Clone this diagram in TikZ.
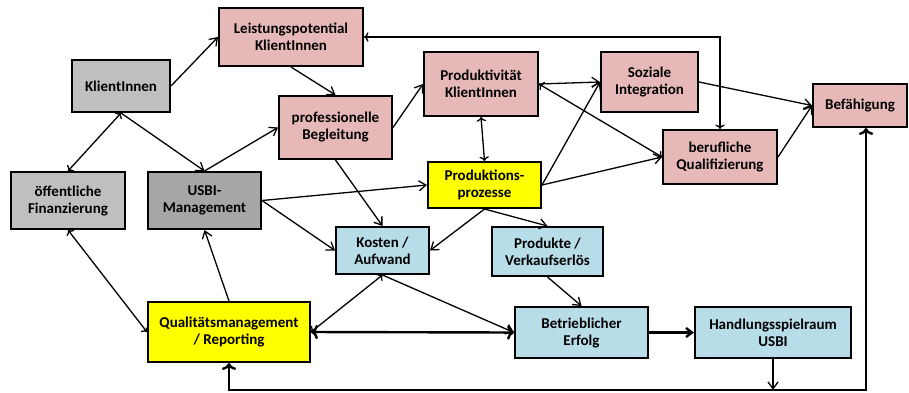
\documentclass[tikz,border=0pt]{standalone}
\usepackage{fontspec}
\setmainfont{Carlito}
\usetikzlibrary{arrows.meta}
\definecolor{rosa}{HTML}{E6B9B8}
\definecolor{grauhell}{HTML}{BFBFBF}
\definecolor{graudunkel}{HTML}{A6A6A6}
\definecolor{gelb}{HTML}{FFFF00}
\definecolor{blau}{HTML}{B7DDE8}

\begin{document}
\begin{tikzpicture} [x=1pt,y=-1pt,
  box/.style={draw,line width=2pt,align=center,inner sep=0pt,
    font=\bfseries\fontsize{15}{17}\selectfont},
  pfeil/.style={line width=1.3pt,-{Straight Barb[length=7pt,width=10pt]}},
  dick/.style={line width=2.4pt,-{Straight Barb[length=6pt,width=9pt]}}]
 \useasboundingbox (0,0) rectangle (909,392);
 \node[box,fill=rosa,minimum width=144pt,minimum height=58pt] (leist) at (291,37) {Leistungspotential\\KlientInnen};
 \node[box,fill=grauhell,minimum width=98pt,minimum height=52pt] (klient) at (121,86) {KlientInnen};
 \node[box,fill=rosa,minimum width=113pt,minimum height=63pt] (beglt) at (335.5,127.5) {professionelle\\Begleitung};
 \node[box,fill=rosa,minimum width=114pt,minimum height=64pt] (prodkt) at (481,84) {Produktivität\\KlientInnen};
 \node[box,fill=rosa,minimum width=97pt,minimum height=60pt] (sozial) at (649.5,82) {Soziale\\Integration};
 \node[box,fill=rosa,minimum width=94pt,minimum height=43pt] (befaeh) at (860,105.5) {Befähigung};
 \node[box,fill=rosa,minimum width=114pt,minimum height=54pt] (beruf) at (720,157) {berufliche\\Qualifizierung};
 \node[box,fill=gelb,minimum width=113pt,minimum height=46pt] (prozess) at (484.5,185) {Produktions-\\prozesse};
 \node[box,fill=grauhell,minimum width=114pt,minimum height=57pt] (oeff) at (68,200.5) {öffentliche\\Finanzierung};
 \node[box,fill=graudunkel,minimum width=113pt,minimum height=57pt] (usbi) at (204.5,200.5) {USBI-\\Management};
 \node[box,fill=blau,minimum width=93pt,minimum height=47pt] (kosten) at (382.5,250.5) {Kosten /\\Aufwand};
 \node[box,fill=blau,minimum width=111pt,minimum height=49pt] (produkte) at (547.5,251.5) {Produkte /\\Verkaufserlös};
 \node[box,fill=gelb,minimum width=162pt,minimum height=60pt] (qm) at (229,332) {Qualitätsmanagement\\/ Reporting};
 \node[box,fill=blau,minimum width=133pt,minimum height=51pt] (erfolg) at (581.5,332.5) {Betrieblicher\\Erfolg};
 \node[box,fill=blau,minimum width=156pt,minimum height=51pt] (handl) at (773,332.5) {Handlungsspielraum\\USBI};
 \coordinate (ecke) at (720,37);
 \coordinate (unten) at (773,390);
 \coordinate (links) at (229,390);
 \coordinate (rechts) at (866,390);

 \draw[pfeil] (klient.east) -- (leist.west);
 \draw[pfeil] (leist.south) -- (beglt.north);
 \draw[pfeil,<->] (klient.south) -- (oeff.north);
 \draw[pfeil] (klient.south) -- (usbi.north);
 \draw[pfeil] (usbi.north) -- (beglt.west);
 \draw[pfeil] (beglt.east) -- (prodkt.west);
 \draw[pfeil] (beglt.south) -- (kosten.north);
 \draw[pfeil] (usbi.east) -- (prozess.west);
 \draw[pfeil] (usbi.east) -- (kosten.west);
 \draw[pfeil,<->] (prodkt.south) -- (prozess.north);
 \draw[pfeil] (prodkt.east) -- (sozial.west);
 \draw[pfeil,<->] (prodkt.east) -- (beruf.west);
 \draw[pfeil] (prozess.east) -- (sozial.west);
 \draw[pfeil] (prozess.east) -- (beruf.west);
 \draw[pfeil] (sozial.east) -- (befaeh.west);
 \draw[pfeil] (beruf.east) -- (befaeh.west);
 \draw[pfeil,<->] (leist.east) -- (ecke) -- (beruf.north);
 \draw[pfeil] (prozess.south) -- (kosten.east);
 \draw[pfeil] (prozess.south) -- (produkte.north);
 \draw[pfeil] (produkte.south) -- (erfolg.north);
 \draw[pfeil,<->] (kosten.south) -- (qm.east);
 \draw[pfeil] (kosten.south) -- (erfolg.west);
 \draw[pfeil,<->] (oeff.south) -- (qm.west);
 \draw[pfeil] (qm.north) -- (usbi.south);
 \draw[dick,<->] (qm.east) -- (erfolg.west);
 \draw[dick] (erfolg.east) -- (handl.west);
 \draw[pfeil] (handl.south) -- (unten);
 \draw[dick,<->] (qm.south) -- (links) -- (rechts) -- (rechts |- befaeh.south);
\end{tikzpicture}
\end{document}
